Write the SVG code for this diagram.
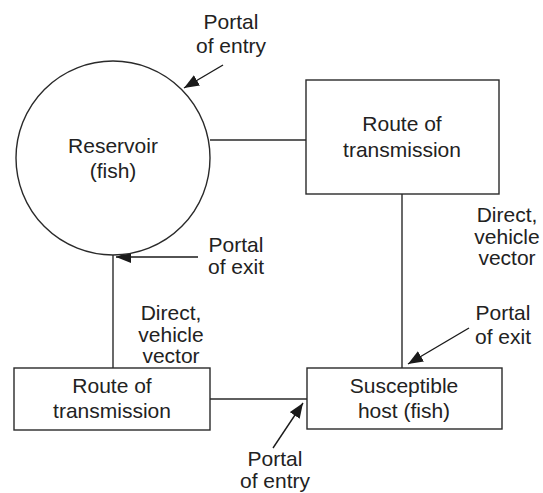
<svg xmlns="http://www.w3.org/2000/svg" width="543" height="493" viewBox="0 0 543 493">
<defs>
<marker id="ah" markerUnits="userSpaceOnUse" markerWidth="16" markerHeight="12" refX="15" refY="6" orient="auto">
<path d="M0,0 L15,6 L0,12 Z" fill="#1a1a1a"/>
</marker>
</defs>
<style>
.sh{fill:#fff;stroke:#2a2a2a;stroke-width:1.4}
.ln{fill:none;stroke:#2a2a2a;stroke-width:1.4}
.ar{fill:none;stroke:#1a1a1a;stroke-width:1.4;marker-end:url(#ah)}
text{font-family:"Liberation Sans",Arial,sans-serif;font-size:21px;fill:#222;text-anchor:middle}
</style>
<rect width="543" height="493" fill="#fff"/>
<g id="connectors">
<line class="ln" x1="210" y1="140" x2="306" y2="140"/>
<line class="ln" x1="402" y1="194" x2="402" y2="368"/>
<line class="ln" x1="113" y1="255" x2="113" y2="368"/>
<line class="ln" x1="210" y1="399" x2="307" y2="399"/>
<line class="ar" x1="223" y1="65" x2="184" y2="88"/>
<line class="ar" x1="198" y1="257" x2="116" y2="257"/>
<line class="ar" x1="469" y1="328" x2="408" y2="364"/>
<line class="ar" x1="273" y1="448" x2="303" y2="403"/>
</g>
<g id="reservoir">
<circle class="sh" cx="113" cy="158" r="97"/>
<text x="113" y="153">Reservoir</text>
<text x="113" y="178">(fish)</text>
</g>
<g id="route-top">
<rect class="sh" x="306" y="80" width="193" height="114"/>
<text x="402" y="131">Route of</text>
<text x="402" y="157">transmission</text>
</g>
<g id="route-bottom">
<rect class="sh" x="14" y="368" width="196" height="62"/>
<text x="112" y="393">Route of</text>
<text x="112" y="418">transmission</text>
</g>
<g id="host">
<rect class="sh" x="307" y="368" width="195" height="61"/>
<text x="404" y="393">Susceptible</text>
<text x="404" y="418">host (fish)</text>
</g>
<g id="labels">
<text x="231" y="29">Portal</text>
<text x="231" y="52.5">of entry</text>
<text x="236" y="252">Portal</text>
<text x="236" y="274">of exit</text>
<text x="171" y="320">Direct,</text>
<text x="171" y="342">vehicle</text>
<text x="171" y="363">vector</text>
<text x="507" y="222">Direct,</text>
<text x="507" y="244">vehicle</text>
<text x="507" y="265">vector</text>
<text x="503" y="320">Portal</text>
<text x="503" y="344">of exit</text>
<text x="275" y="466">Portal</text>
<text x="275" y="488">of entry</text>
</g>
</svg>
